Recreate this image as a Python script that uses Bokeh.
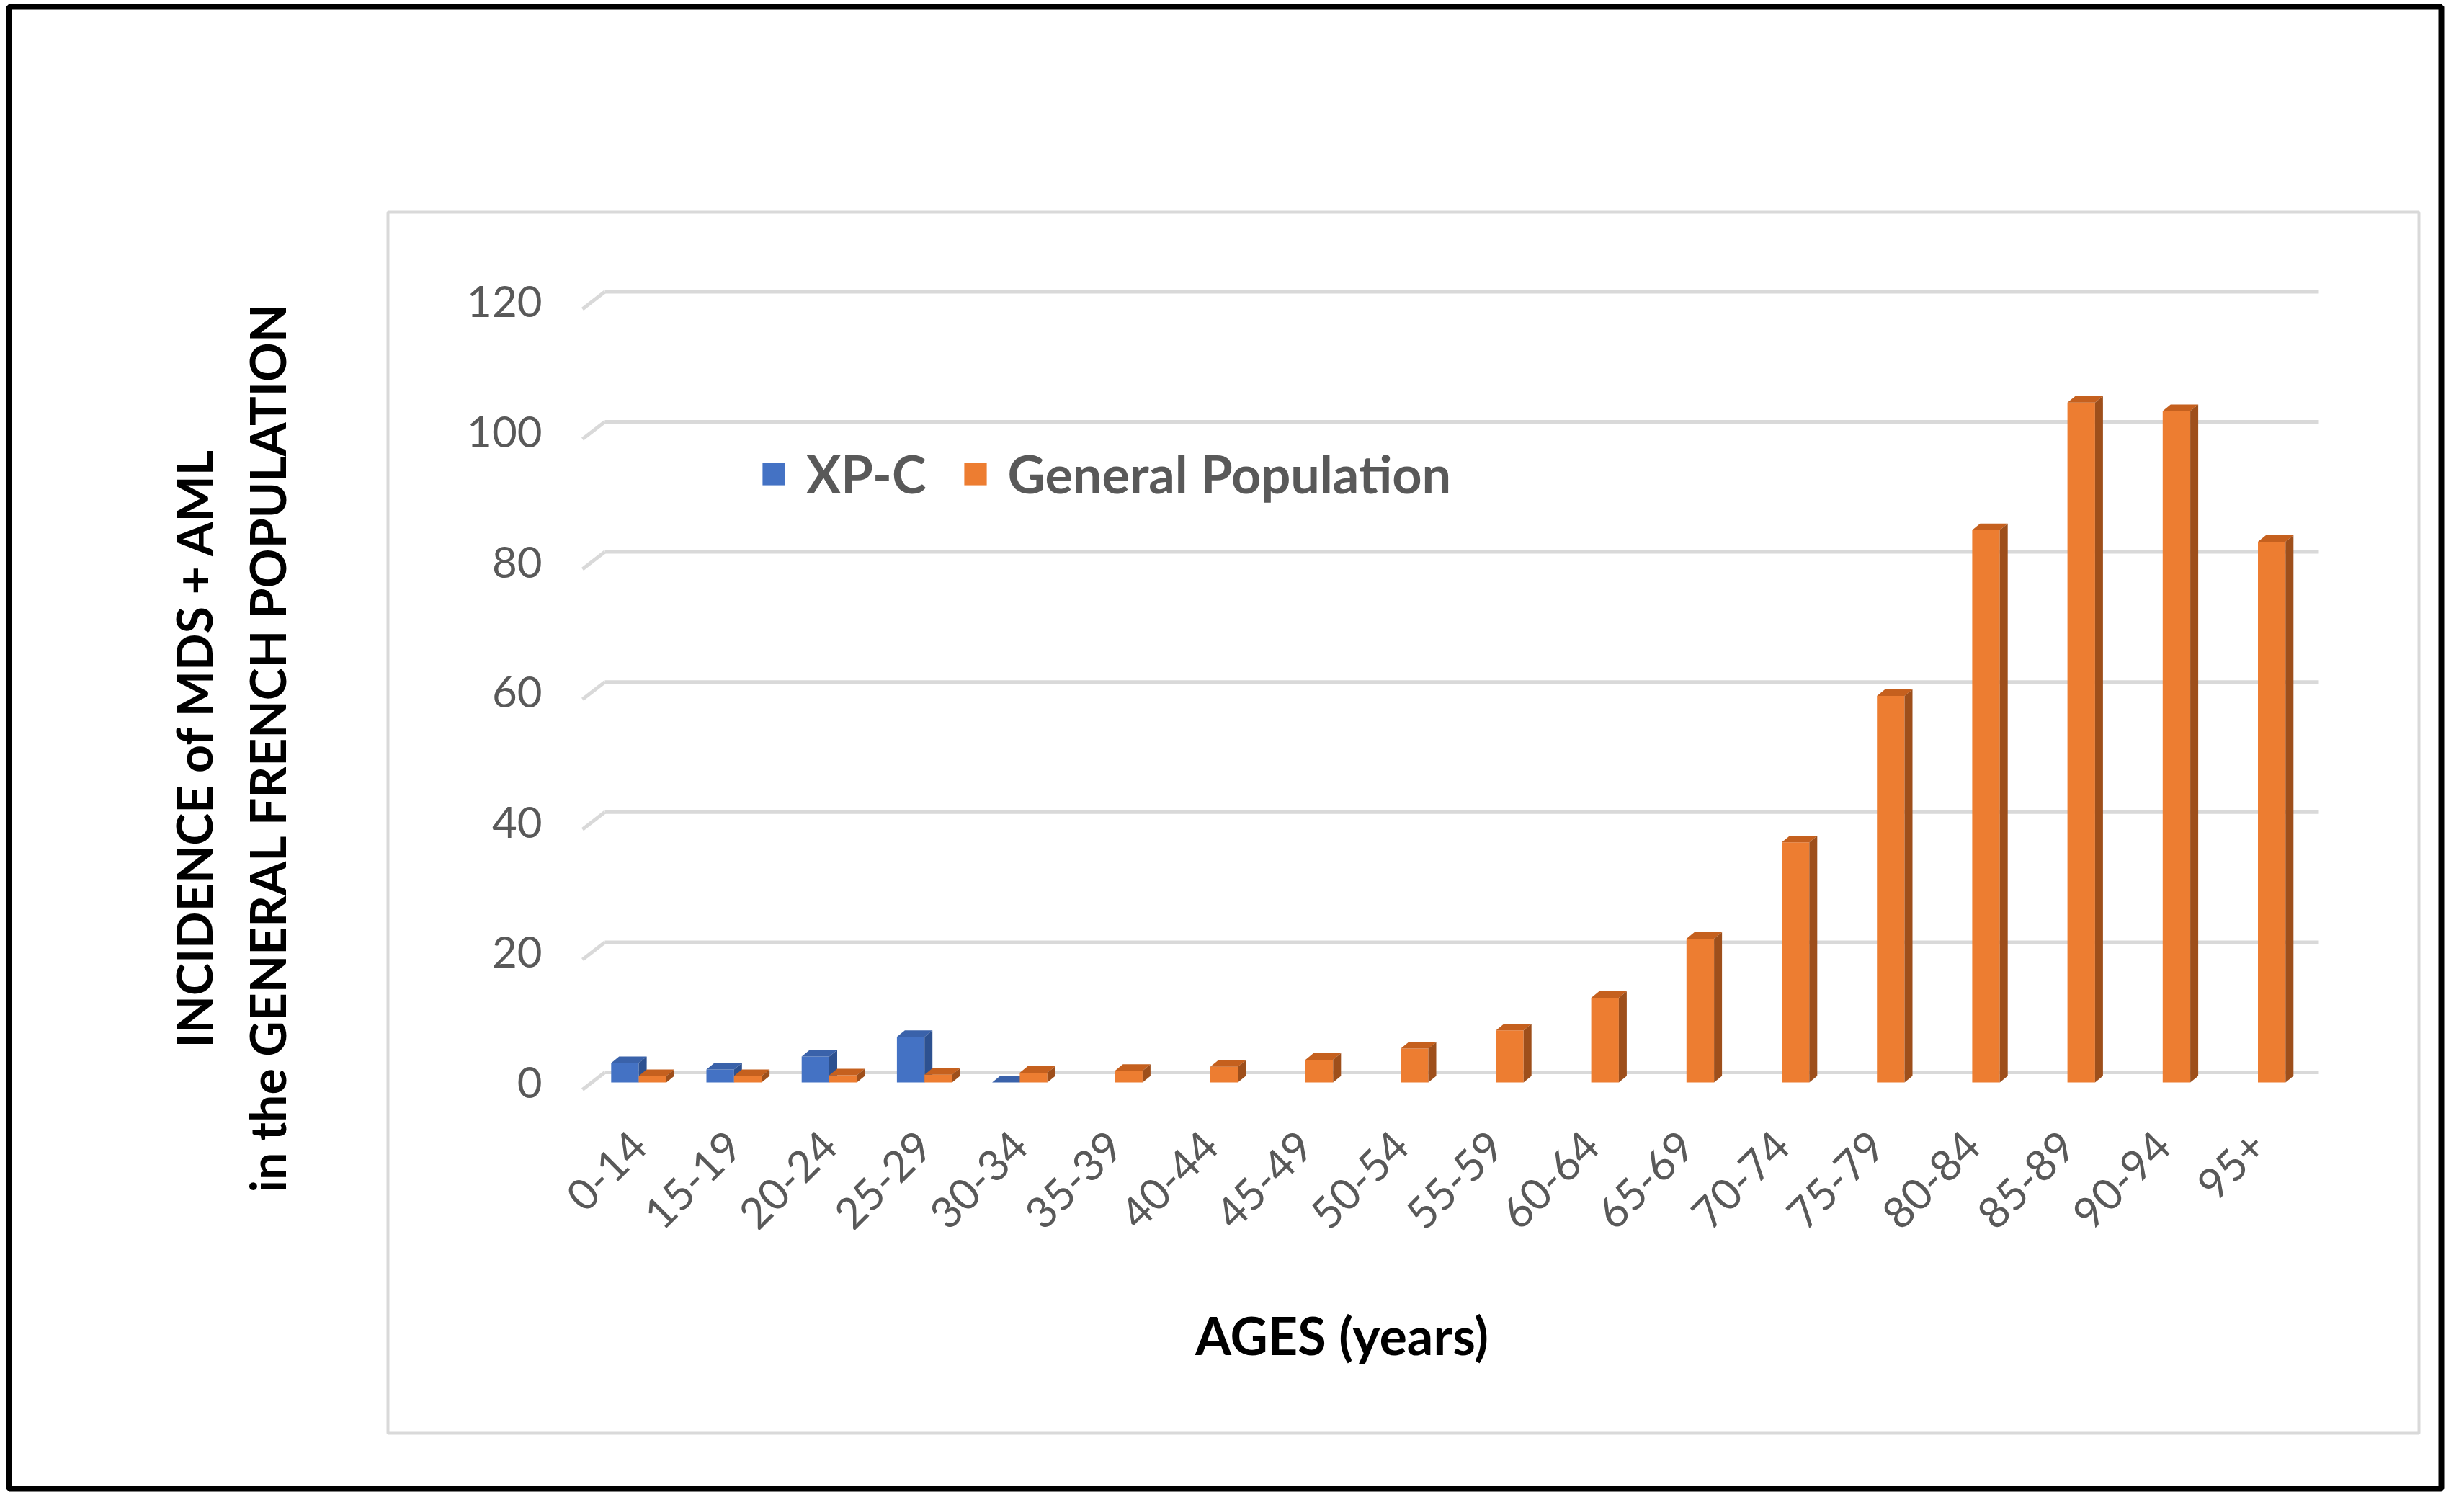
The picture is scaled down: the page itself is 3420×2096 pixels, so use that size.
import math
from bokeh.plotting import figure
from bokeh.models import (Range1d, FixedTicker, Legend, LegendItem, Label,
                          ColumnDataSource)
from bokeh.embed import file_html
from bokeh.resources import INLINE

# ---------------- data ----------------
age_groups = ["0-14", "15-19", "20-24", "25-29", "30-34", "35-39", "40-44",
              "45-49", "50-54", "55-59", "60-64", "65-69", "70-74", "75-79",
              "80-84", "85-89", "90-94", "95+"]
xp_c = [3, 2, 4, 7, 0, None, None, None, None, None, None, None, None,
        None, None, None, None, None]
general_population = [1.0, 1.0, 1.1, 1.2, 1.5, 1.8, 2.4, 3.5, 5.2, 8.0,
                      13.0, 22.1, 36.9, 59.4, 84.9, 104.5, 103.2, 83.1]
y_ticks = [0, 20, 40, 60, 80, 100, 120]

# ---------------- geometry / style (canvas pixels) ----------------
W, H = 3402, 2078
FL, FR, FT, FB = 12, 3388, 9, 2066        # frame = outer black border
OX, OY = 820, 1502                        # canvas position of data (0, 0)
pxx, pxy = 132.2, 9.03                    # pixels per data unit

X0, X1 = (FL - OX) / pxx, (FR - OX) / pxx
Y0, Y1 = -(FB - OY) / pxy, (OY - FT) / pxy


def dx(px):
    return (px - OX) / pxx


def dy(py):
    return (OY - py) / pxy


bar_w = 38.3 / pxx
ddx, ddy = 11 / pxx, 9 / pxy          # bar depth (3-D look)
gx, gy = 19 / pxx, 14 / pxy           # back-wall offset of gridlines
fx, fy = -12 / pxx, -10 / pxy         # front end of gridline diagonals
g_end = dx(3218)

BLUE, BLUE_TOP, BLUE_SIDE = "#4472C4", "#3A62AA", "#2D5190"
ORANGE, ORANGE_TOP, ORANGE_SIDE = "#ED7D31", "#C5601E", "#9E4F1B"
GRID = "#D9D9D9"
FONT = "Lato"

p = figure(width=W, height=H, output_backend="svg", toolbar_location=None,
           x_range=Range1d(X0, X1), y_range=Range1d(Y0, Y1),
           min_border_left=FL, min_border_right=W - FR,
           min_border_top=FT, min_border_bottom=H - FB)
p.outline_line_color = "black"
p.outline_line_width = 8
p.xgrid.visible = False
p.ygrid.visible = False
p.background_fill_color = "white"
p.border_fill_color = "white"

# inner light-grey chart-area frame
p.quad(left=dx(538), right=dx(3357), top=dy(294), bottom=dy(1989),
       fill_color=None, line_color=GRID, line_width=4)

# back-wall gridlines with their left diagonal (3-D wall)
gl = ColumnDataSource(dict(
    xa=[fx] * len(y_ticks), ya=[t + fy for t in y_ticks],
    xb=[gx] * len(y_ticks), yb=[t + gy for t in y_ticks],
    xc=[g_end] * len(y_ticks)))
p.segment(x0="xa", y0="ya", x1="xb", y1="yb", source=gl,
          line_color=GRID, line_width=5)
p.segment(x0="xb", y0="yb", x1="xc", y1="yb", source=gl,
          line_color=GRID, line_width=5)

centers = [k + 0.5 for k in range(len(age_groups))]


def draw_series(vals, left_off, front, top_c, side_c):
    cx, tv, txs, tys, sxs, sys_ = [], [], [], [], [], []
    for c, v in zip(centers, vals):
        if v is None:
            continue
        xl, xr = c + left_off, c + left_off + bar_w
        cx.append((xl + xr) / 2)
        tv.append(v)
        txs.append([xl, xr, xr + ddx, xl + ddx])
        tys.append([v, v, v + ddy, v + ddy])
        sxs.append([xr, xr + ddx, xr + ddx, xr])
        sys_.append([0, ddy, v + ddy, v])
    r = p.vbar(x=cx, top=tv, bottom=0, width=bar_w, fill_color=front,
               line_color=None)
    p.patches(xs=txs, ys=tys, fill_color=top_c, line_color=None)
    p.patches(xs=sxs, ys=sys_, fill_color=side_c, line_color=None)
    return r


r_blue = draw_series(xp_c, -bar_w, BLUE, BLUE_TOP, BLUE_SIDE)
r_orange = draw_series(general_population, 0.0, ORANGE, ORANGE_TOP, ORANGE_SIDE)

# ---------------- axes ----------------
yax = p.yaxis[0]
yax.fixed_location = dx(794)
yax.ticker = FixedTicker(ticks=y_ticks)
yax.axis_line_color = None
yax.major_tick_line_color = None
yax.minor_tick_line_color = None
yax.major_label_text_font = FONT
yax.major_label_text_font_size = "60px"
yax.major_label_text_color = "#595959"
yax.major_label_standoff = 36
yax.axis_label = "INCIDENCE of MDS + AML\nin the GENERAL FRENCH POPULATION"
yax.axis_label_text_font = FONT
yax.axis_label_text_font_style = "bold"
yax.axis_label_text_font_size = "68px"
yax.axis_label_text_color = "black"
yax.axis_label_text_line_height = 1.26
yax.axis_label_standoff = 234

xax = p.xaxis[0]
xax.fixed_location = dy(1529)
xax.ticker = FixedTicker(ticks=centers)
xax.major_label_overrides = {c: g for c, g in zip(centers, age_groups)}
xax.major_label_orientation = math.pi / 4
xax.axis_line_color = None
xax.major_tick_line_color = None
xax.minor_tick_line_color = None
xax.major_label_text_font = FONT
xax.major_label_text_font_size = "60px"
xax.major_label_text_color = "#595959"
xax.major_label_standoff = 45

p.add_layout(Label(x=dx(1862), y=dy(1852), text="AGES (years)",
                   text_align="center", text_baseline="middle",
                   text_font=FONT, text_font_style="bold",
                   text_font_size="72px", text_color="black"))

# ---------------- legend ----------------
legend = Legend(items=[LegendItem(label="XP-C", renderers=[r_blue]),
                       LegendItem(label="General Population", renderers=[r_orange])],
                orientation="horizontal", location=(1054 - FL, FB - 700),
                glyph_width=39, glyph_height=39, label_standoff=26,
                spacing=48, padding=0, margin=0,
                border_line_alpha=0, background_fill_alpha=0,
                label_text_font=FONT, label_text_font_style="bold",
                label_text_font_size="72px", label_text_color="#595959")
p.add_layout(legend)

open("out.html", "w").write(file_html(p, INLINE))
